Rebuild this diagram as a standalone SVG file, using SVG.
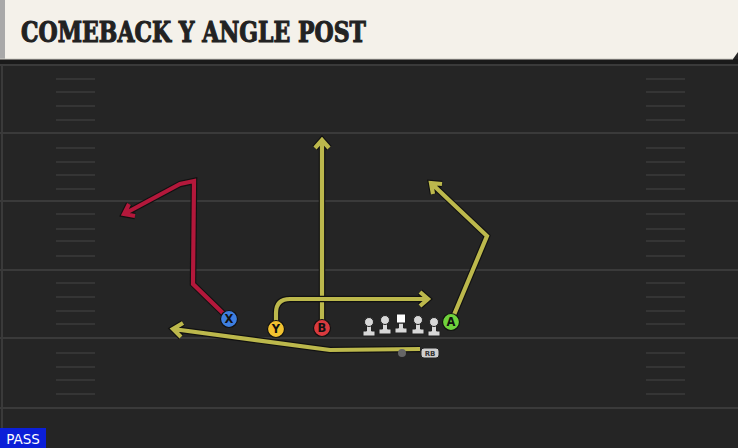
<svg xmlns="http://www.w3.org/2000/svg" width="738" height="448" viewBox="0 0 738 448">
<style>
.yard{stroke:#3a3a3a;stroke-width:2}
.hash{stroke:#3b3b3b;stroke-width:1.6}
.out{fill:none;stroke:#111;stroke-width:6.5;stroke-linejoin:miter;stroke-linecap:butt}
.rt{fill:none;stroke-width:4.2;stroke-linejoin:miter;stroke-linecap:butt}
.yl{stroke:#bcb84c}
.rd{stroke:#b3183b}
.pl{stroke:#111;stroke-width:1.2}
.lbl{font-family:"DejaVu Sans",sans-serif;font-weight:bold;font-size:11.5px;fill:#111;text-anchor:middle}
.ol{fill:#d8d8d8;stroke:#222;stroke-width:1}
</style>
<rect x="0" y="0" width="738" height="448" fill="#252525"/>
<rect x="0" y="59" width="738" height="6" fill="#1a1a1a"/>
<g id="field">
<line class="yard" x1="0" y1="65" x2="738" y2="65"/>
<line class="yard" x1="0" y1="133" x2="738" y2="133"/>
<line class="yard" x1="0" y1="201" x2="738" y2="201"/>
<line class="yard" x1="0" y1="270" x2="738" y2="270"/>
<line class="yard" x1="0" y1="338" x2="738" y2="338"/>
<line class="yard" x1="0" y1="408" x2="738" y2="408"/>
<line x1="2" y1="65" x2="2" y2="448" stroke="#3a3a3a" stroke-width="2"/>
<g id="hashL">
<line class="hash" x1="56" y1="79" x2="95" y2="79"/><line class="hash" x1="56" y1="92" x2="95" y2="92"/><line class="hash" x1="56" y1="106" x2="95" y2="106"/><line class="hash" x1="56" y1="120" x2="95" y2="120"/>
<line class="hash" x1="56" y1="148" x2="95" y2="148"/><line class="hash" x1="56" y1="162" x2="95" y2="162"/><line class="hash" x1="56" y1="175" x2="95" y2="175"/><line class="hash" x1="56" y1="189" x2="95" y2="189"/>
<line class="hash" x1="56" y1="214" x2="95" y2="214"/><line class="hash" x1="56" y1="229" x2="95" y2="229"/><line class="hash" x1="56" y1="241" x2="95" y2="241"/><line class="hash" x1="56" y1="256" x2="95" y2="256"/>
<line class="hash" x1="56" y1="283" x2="95" y2="283"/><line class="hash" x1="56" y1="297" x2="95" y2="297"/><line class="hash" x1="56" y1="311" x2="95" y2="311"/><line class="hash" x1="56" y1="324" x2="95" y2="324"/>
<line class="hash" x1="56" y1="353" x2="95" y2="353"/><line class="hash" x1="56" y1="367" x2="95" y2="367"/><line class="hash" x1="56" y1="380" x2="95" y2="380"/><line class="hash" x1="56" y1="394" x2="95" y2="394"/>
</g>
<use href="#hashL" x="590"/>
</g>
<g id="header">
<path d="M0,0 H738 V52 L733,59 H0 Z" fill="#f4f1ea"/>
<rect x="0" y="0" width="5" height="59" fill="#a9a9a9"/>
<line x1="0" y1="59" x2="733" y2="59" stroke="#cfccc5" stroke-width="1"/>
<text x="21" y="42" font-family="'DejaVu Serif',serif" font-weight="bold" font-size="27" fill="#222" stroke="#222" stroke-width="1.1" textLength="345" lengthAdjust="spacingAndGlyphs">COMEBACK Y ANGLE POST</text>
</g>
<g id="connectors">
<path class="out" d="M229,319 L193,284 L194,181 L180,184 L124,214 M135,216 L124,214 L129,204"/>
<path class="rt rd" d="M229,319 L193,284 L194,181 L180,184 L124,214 M135,216 L124,214 L129,204"/>
<path class="out" d="M322,328 V140 M315,148 L322,140 L329,148"/>
<path class="rt yl" d="M322,328 V140 M315,148 L322,140 L329,148"/>
<path class="out" d="M276,329 V313 Q276,299 290,299 H428 M420,292 L428,299 L420,306"/>
<path class="rt yl" d="M276,329 V313 Q276,299 290,299 H428 M420,292 L428,299 L420,306"/>
<path class="out" d="M451,322 L487,236 L431,183 M442,184 L431,183 L433,194"/>
<path class="rt yl" d="M451,322 L487,236 L431,183 M442,184 L431,183 L433,194"/>
<path class="out" d="M420,349 L330,350 L173,329 M183,323 L173,329 L181,337"/>
<path class="rt yl" d="M420,349 L330,350 L173,329 M183,323 L173,329 L181,337"/>
</g>
<g id="X"><circle cx="229" cy="319" r="8.5" fill="#3e7fe0" class="pl"/><text class="lbl" x="229" y="323">X</text></g>
<g id="Y"><circle cx="276" cy="329" r="8.5" fill="#f2c230" class="pl"/><text class="lbl" x="276" y="333">Y</text></g>
<g id="B"><circle cx="322" cy="328" r="8.5" fill="#d93a3e" class="pl"/><text class="lbl" x="322" y="332">B</text></g>
<g id="A"><circle cx="451" cy="322" r="8.5" fill="#6fd23c" class="pl"/><text class="lbl" x="451" y="326">A</text></g>
<g id="OL1"><path class="ol" d="M363,336 V331 H366.5 V325 H371.5 V331 H375 V336 Z"/><circle class="ol" cx="369" cy="322" r="4.5"/></g>
<g id="OL2"><path class="ol" d="M379,334 V329 H382.5 V323 H387.5 V329 H391 V334 Z"/><circle class="ol" cx="385" cy="320" r="4.5"/></g>
<g id="C"><path class="ol" d="M395,333 V328 H398.5 V323 H403.5 V328 H407 V333 Z"/><rect x="396.5" y="314" width="9" height="9" fill="#fff" stroke="#222" stroke-width="1"/></g>
<g id="OL4"><path class="ol" d="M412,334 V329 H415.5 V323 H420.5 V329 H424 V334 Z"/><circle class="ol" cx="418" cy="320" r="4.5"/></g>
<g id="OL5"><path class="ol" d="M428,336 V331 H431.5 V325 H436.5 V331 H440 V336 Z"/><circle class="ol" cx="434" cy="322" r="4.5"/></g>
<g id="QB"><circle cx="402" cy="353" r="4" fill="#666"/></g>
<g id="RB"><rect x="421" y="348" width="18" height="10" rx="3" fill="#cfcfcf" stroke="#222" stroke-width="1"/><text x="430" y="356" font-family="'DejaVu Sans',sans-serif" font-weight="bold" font-size="7" fill="#333" text-anchor="middle">RB</text></g>
<g id="pass"><rect x="0" y="428" width="46" height="20" fill="#0b1fd8"/><text x="23" y="444" font-family="'DejaVu Sans',sans-serif" font-size="13.5" fill="#fff" text-anchor="middle">PASS</text></g>
</svg>
